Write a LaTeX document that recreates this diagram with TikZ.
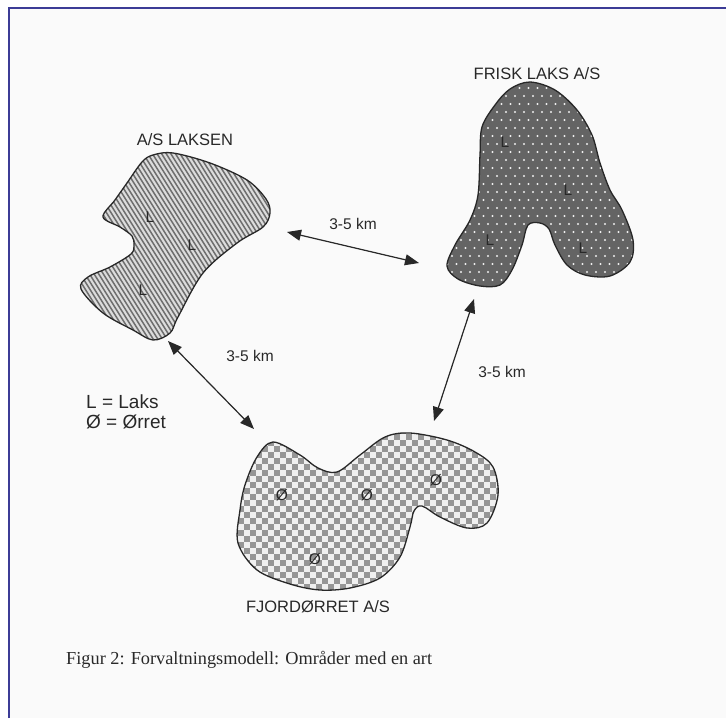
\documentclass[tikz,border=0pt]{standalone}
\usepackage{fontspec}
\setmainfont{Liberation Sans}
\newfontfamily\capfont{Liberation Serif}
\usetikzlibrary{arrows.meta}
\definecolor{frame}{RGB}{60,60,150}
\definecolor{pagebg}{RGB}{250,250,250}
\definecolor{ink}{RGB}{40,40,40}
\definecolor{hatchbg}{RGB}{220,220,220}
\definecolor{hatchln}{RGB}{110,110,110}
\definecolor{dotbg}{RGB}{100,100,100}
\definecolor{chkA}{RGB}{240,240,240}
\definecolor{chkB}{RGB}{150,150,150}
\begin{document}
\begin{tikzpicture}[x=1pt,y=-1pt,
  outline/.style={draw=ink,line width=1.3pt},
  title/.style={font=\fontsize{16.5}{18}\selectfont,text=ink,inner sep=0pt},
  dist/.style={font=\fontsize{15.5}{17}\selectfont,text=ink,inner sep=0pt},
  spec/.style={font=\fontsize{15.5}{17}\selectfont,text=ink,inner sep=0pt},
  legend/.style={font=\fontsize{19}{21}\selectfont,text=ink,inner sep=0pt,align=left,anchor=west},
  dbl/.style={{Triangle[length=14pt,width=11pt]}-{Triangle[length=14pt,width=11pt]},draw=ink,fill=ink,line width=1.2pt}]
\useasboundingbox (0,0) rectangle (726,718);
\fill[white] (0,0) rectangle (726,718);
\fill[pagebg] (9,8) rectangle (726,718);
\draw[frame,line width=1.5pt] (9,718) -- (9,8) -- (726,8);

% ---- A/S LAKSEN (hatched)
\def\shapeA{plot[smooth cycle,tension=0.55] coordinates {
 (103,217) (120,227) (132,236) (134,245) (131,254) (110,267) (88,277) (81,289)
 (103,313) (133,330) (153,340) (170,333) (178,317) (203,273) (237,243) (263,227)
 (270,213) (266,199) (247,180) (210,163) (173,153) (153,155) (142,162) (127,183) (115,200)}}
\begin{scope}
\clip \shapeA;
\fill[hatchbg] (70,140) rectangle (280,350);
\foreach \i in {0,...,72} \draw[hatchln,line width=1.5pt] ({-60+\i*4.6},145) -- ++(128,205);
\end{scope}
\draw[outline] \shapeA;

% ---- FRISK LAKS A/S (dotted)
\def\shapeB{plot[smooth cycle,tension=0.55] coordinates {
 (530,82) (555,90) (577,110) (592,135) (600,163) (610,190) (622,210) (633,240) (630,262)
 (610,276) (585,275) (567,265) (555,245) (549,229) (540,223) (528,225) (522,245) (512,270)
 (500,285) (480,286) (458,279) (447,266) (455,245) (470,220) (478,195) (480,155) (482,127)
 (495,105) (510,89)}}
\begin{scope}
\clip \shapeB;
\fill[dotbg] (440,75) rectangle (640,295);
\foreach \j in {0,...,27} {
  \pgfmathsetmacro\off{mod(\j,2)*4.5}
  \foreach \i in {0,...,22} \fill[white!90!dotbg] ({443+\off+\i*9},{80+\j*8}) circle (1.1);
}
\end{scope}
\draw[outline] \shapeB;

% ---- FJORDØRRET A/S (checkerboard)
\def\shapeC{plot[smooth cycle,tension=0.55] coordinates {
 (273,442) (257,457) (245,485) (240,510) (238,543) (257,570) (290,584) (320,590) (350,588)
 (380,578) (400,557) (410,527) (414,511) (422,506) (440,517) (467,528) (487,523) (498,495)
 (493,467) (475,452) (447,440) (410,433) (385,437) (360,455) (337,472) (318,468) (300,455)}}
\begin{scope}
\clip \shapeC;
\fill[chkA] (230,425) rectangle (505,600);
\foreach \j in {0,...,29} {
  \pgfmathsetmacro\off{mod(\j,2)*6}
  \foreach \i in {0,...,23} \fill[chkB] ({232+\off+\i*12},{428+\j*6}) rectangle ++(6,6);
}
\end{scope}
\draw[outline] \shapeC;

% ---- titles
\node[title] (tA) at (185,140) {A/S LAKSEN};
\node[title] (tB) at (537,74) {FRISK LAKS A/S};
\node[title] (tC) at (318,607) {FJORDØRRET A/S};

% ---- species letters
\node[spec] (a1) at (150,217) {L};
\node[spec] (a2) at (192,245) {L};
\node[spec] (a3) at (143,290) {L};
\node[spec] (b1) at (505,142) {L};
\node[spec] (b2) at (568,190) {L};
\node[spec] (b3) at (490,240) {L};
\node[spec] (b4) at (583,248) {L};
\node[spec] (c1) at (282,495) {Ø};
\node[spec] (c2) at (367,495) {Ø};
\node[spec] (c3) at (436,480) {Ø};
\node[spec] (c4) at (315,559) {Ø};

% ---- connectors
\coordinate (pA1) at (287,232);
\coordinate (pB1) at (419,263);
\coordinate (pA2) at (168,341);
\coordinate (pC2) at (254,429);
\coordinate (pB3) at (474,299);
\coordinate (pC3) at (434,421);
\draw[dbl] (pA1) -- (pB1);
\draw[dbl] (pA2) -- (pC2);
\draw[dbl] (pB3) -- (pC3);
\node[dist] (d1) at (353,224) {3-5 km};
\node[dist] (d2) at (250,356) {3-5 km};
\node[dist] (d3) at (502,372) {3-5 km};

% ---- legend
\node[legend] (leg1) at (86,402) {L = Laks};
\node[legend] (leg2) at (86,422) {Ø = Ørret};

% ---- caption
\node[font=\capfont\fontsize{18.3}{21}\selectfont,text=ink,anchor=west,inner sep=0pt] (cap) at (66,660) {Figur 2: Forvaltningsmodell: Områder med en art};
\end{tikzpicture}
\end{document}
